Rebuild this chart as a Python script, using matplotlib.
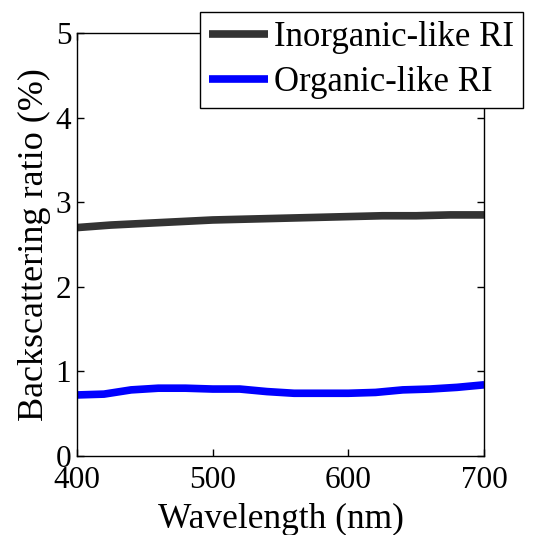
import numpy as np
import matplotlib
matplotlib.use('Agg')
import matplotlib.pyplot as plt

plt.rcParams['font.family'] = ['Liberation Serif', 'DejaVu Serif']
plt.rcParams['mathtext.fontset'] = 'stix'

# wavelength grid (nm)
wl_inorg = [400, 425, 450, 475, 500, 525, 550, 575, 600, 625, 650, 675, 700]
ratio_inorg = [2.70, 2.73, 2.75, 2.77, 2.79, 2.80, 2.81, 2.82, 2.83, 2.84, 2.84, 2.85, 2.85]

wl_org = [400, 420, 440, 460, 480, 500, 520, 540, 560, 580, 600, 620, 640, 660, 680, 700]
ratio_org = [0.72, 0.73, 0.78, 0.80, 0.80, 0.79, 0.79, 0.76, 0.74, 0.74, 0.74, 0.75, 0.78, 0.79, 0.81, 0.84]

labels = ['Inorganic-like RI', 'Organic-like RI']
colors = ['#333333', '#0000ff']

fig = plt.figure(figsize=(5.41, 5.35), dpi=100)
ax = fig.add_axes([0.142, 0.148, 0.753, 0.79])

ax.plot(wl_inorg, ratio_inorg, color=colors[0], lw=5.5, label=labels[0], solid_capstyle='butt')
ax.plot(wl_org, ratio_org, color=colors[1], lw=5.5, label=labels[1], solid_capstyle='butt')

ax.set_xlim(400, 700)
ax.set_ylim(0, 5)
ax.set_xticks([400, 500, 600, 700])
ax.set_yticks([0, 1, 2, 3, 4, 5])
ax.tick_params(direction='in', top=True, right=True, length=5, width=1, labelsize=22.5, pad=4)
ax.tick_params(axis='x', pad=7)
for s in ax.spines.values():
    s.set_linewidth(1)
ax.set_xlabel('Wavelength (nm)', fontsize=25.5, labelpad=6)
ax.set_ylabel('Backscattering ratio (%)', fontsize=26, labelpad=3)

leg = fig.legend(loc='upper right', bbox_to_anchor=(0.966, 0.977), fontsize=25,
                 frameon=True, fancybox=False, edgecolor='black', framealpha=1,
                 handlelength=1.7, handletextpad=0.17, borderpad=0.25, labelspacing=0.35,
                 borderaxespad=0)
leg.get_frame().set_linewidth(1)

fig.savefig('out.png', dpi=100)
